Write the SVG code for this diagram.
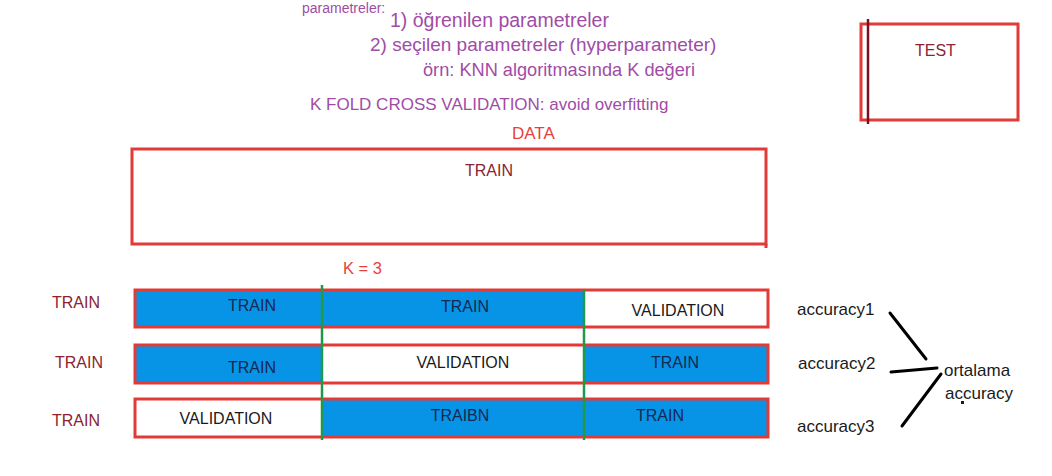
<svg xmlns="http://www.w3.org/2000/svg" width="1052" height="476" viewBox="0 0 1052 476">
<style>
text{font-family:"Liberation Sans",Arial,sans-serif;}
.pur{fill:#a04ca6;}
.dr{fill:#8b2332;font-size:16px;}
.red{fill:#e8413c;}
.nv{fill:#142850;font-size:16px;text-anchor:middle;}
.bk{fill:#1a1a1a;font-size:16px;text-anchor:middle;}
.acc{fill:#1a1a1a;font-size:17px;}
.box{fill:none;stroke:#e23a36;stroke-width:3;}
.blue{fill:#0894e6;}
.white{fill:#ffffff;}
.rowb{fill:none;stroke:#e23a36;stroke-width:3;}
.gl{stroke:#1f9a4a;stroke-width:2.5;}
.ln{stroke:#000;stroke-width:3;stroke-linecap:round;}
</style>
<rect width="1052" height="476" fill="#ffffff"/>

<g id="notes">
<text class="pur" x="302" y="13" font-size="14">parametreler:</text>
<text class="pur" x="390" y="27" font-size="19.5">1) öğrenilen parametreler</text>
<text class="pur" x="370" y="51" font-size="19">2) seçilen parametreler (hyperparameter)</text>
<text class="pur" x="423" y="76" font-size="18.2">örn: KNN algoritmasında K değeri</text>
<text class="pur" x="310" y="110" font-size="17">K FOLD CROSS VALIDATION: avoid overfitting</text>
</g>

<g id="test">
<rect class="box" x="861" y="24" width="157" height="96"/>
<line x1="868" y1="19" x2="868" y2="124" stroke="#7a1020" stroke-width="2.5"/>
<text class="dr" x="915" y="56" font-size="15">TEST</text>
</g>

<g id="data">
<text class="red" x="512" y="139" font-size="17">DATA</text>
<rect class="box" x="132" y="149" width="634" height="95"/>
<line x1="766" y1="244" x2="766" y2="248" stroke="#e23a36" stroke-width="3"/>
<text class="dr" x="465" y="176">TRAIN</text>
</g>

<g id="k">
<text class="red" x="343" y="274" font-size="16.5">K = 3</text>
</g>

<g id="row1">
<rect class="blue" x="135" y="290" width="449" height="37"/>
<rect class="white" x="584" y="290" width="184" height="37"/>
<rect class="rowb" x="135" y="290" width="633" height="37"/>
<text class="dr" x="52" y="308">TRAIN</text>
<text class="nv" x="252" y="311">TRAIN</text>
<text class="nv" x="465" y="312">TRAIN</text>
<text class="bk" x="678" y="316">VALIDATION</text>
</g>

<g id="row2">
<rect class="blue" x="135" y="345" width="187" height="38"/>
<rect class="white" x="322" y="345" width="262" height="38"/>
<rect class="blue" x="584" y="345" width="184" height="38"/>
<rect class="rowb" x="135" y="345" width="633" height="38"/>
<text class="dr" x="55" y="368">TRAIN</text>
<text class="nv" x="252" y="373">TRAIN</text>
<text class="bk" x="463" y="368">VALIDATION</text>
<text class="nv" x="675" y="368">TRAIN</text>
</g>

<g id="row3">
<rect class="white" x="135" y="399" width="187" height="38"/>
<rect class="blue" x="322" y="399" width="446" height="38"/>
<rect class="rowb" x="135" y="399" width="633" height="38"/>
<text class="dr" x="52" y="426">TRAIN</text>
<text class="bk" x="226" y="424">VALIDATION</text>
<text class="nv" x="460" y="421">TRAIBN</text>
<text class="nv" x="660" y="421">TRAIN</text>
</g>

<g id="connectors">
<line class="gl" x1="322" y1="285" x2="322" y2="440"/>
<line class="gl" x1="584" y1="289" x2="584" y2="440"/>
<line class="ln" x1="890" y1="313" x2="926" y2="359"/>
<line class="ln" x1="891" y1="372" x2="937" y2="368"/>
<line class="ln" x1="902" y1="426" x2="941" y2="374"/>
</g>

<g id="accuracies">
<text class="acc" x="797" y="315">accuracy1</text>
<text class="acc" x="798" y="369">accuracy2</text>
<text class="acc" x="797" y="432">accuracy3</text>
</g>

<g id="ortalama">
<text class="acc" x="944" y="376" font-size="18">ortalama</text>
<text class="acc" x="945" y="399" font-size="18">accuracy</text>
<rect x="961" y="401" width="3" height="3" fill="#1a1a1a"/>
</g>
</svg>
